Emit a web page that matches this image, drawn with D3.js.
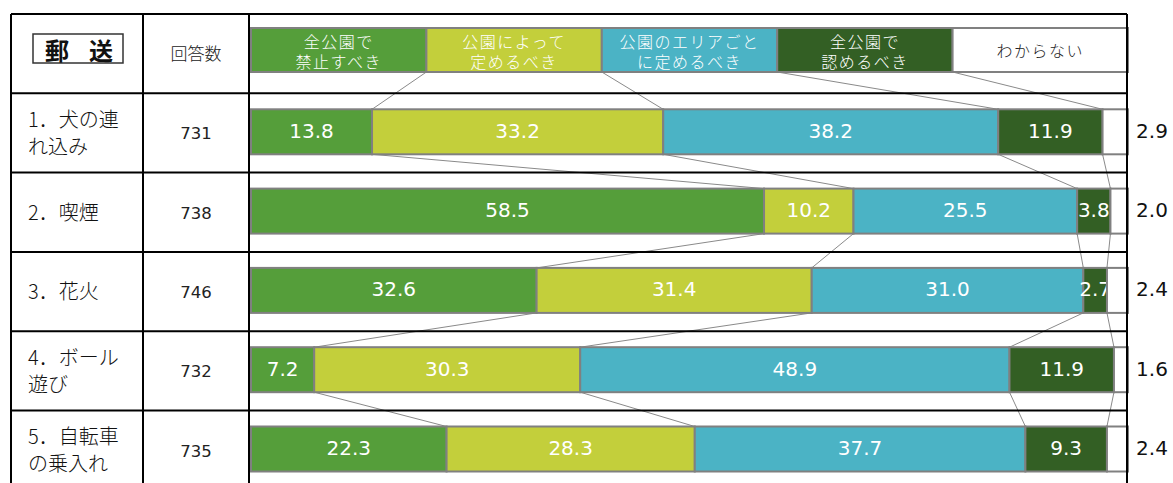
<!DOCTYPE html>
<html>
<head>
<meta charset="utf-8">
<script src="https://cdn.jsdelivr.net/npm/d3@7"></script>
<style>
  body { margin: 0; background: #fff; }
  svg { font-family: "Noto Sans CJK JP", "Noto Sans", sans-serif; }
  .num { font-family: "DejaVu Sans", "Noto Sans", sans-serif; }
</style>
</head>
<body>
<div id="chart"></div>
<script>
// rows of the table
const rowLabels = [["1．犬の連", "れ込み"], ["2．喫煙"], ["3．花火"], ["4．ボール", "遊び"], ["5．自転車", "の乗入れ"]];
const counts = [731, 738, 746, 732, 735];

// answer categories (legend)
const seriesKeys = ["banAll", "byPark", "byArea", "allowAll", "unknown"];
const legendLines = [["全公園で", "禁止すべき"], ["公園によって", "定めるべき"], ["公園のエリアごと", "に定めるべき"], ["全公園で", "認めるべき"], ["わからない"]];

// percentages per category
const banAll   = [13.8, 58.5, 32.6, 7.2, 22.3];
const byPark   = [33.2, 10.2, 31.4, 30.3, 28.3];
const byArea   = [38.2, 25.5, 31.0, 48.9, 37.7];
const allowAll = [11.9, 3.8, 2.7, 11.9, 9.3];
const unknown  = [2.9, 2.0, 2.4, 1.6, 2.4];

const colors = ["#559e3a", "#c3cf3b", "#4bb3c5", "#335f24", "#ffffff"];

const rows = counts.map((c, i) => ({
  id: "r" + i, banAll: banAll[i], byPark: byPark[i], byArea: byArea[i],
  allowAll: allowAll[i], unknown: unknown[i]
}));

const width = 1173, height = 483;
const svg = d3.select("#chart").append("svg")
  .attr("width", width).attr("height", height);

// table geometry
const tableLeft = 11, col1 = 143, col2 = 249, tableRight = 1127;
const band = d3.scaleBand()
  .domain(["header"].concat(rows.map(d => d.id)))
  .range([14, 14 + 6 * 79.3]);

const x = d3.scaleLinear().domain([0, 1]).range([251, 1128]);
const barTop = 16, barH = 45;

const stack = d3.stack().keys(seriesKeys).offset(d3.stackOffsetExpand);
const stacked = stack(rows);

// connector lines between bars
const legendBounds = [0.2, 0.4, 0.6, 0.8];
const rowBounds = rows.map((r, i) => stacked.slice(0, 4).map(s => s[i][1]));
const connectors = [];
legendBounds.forEach((b, k) => connectors.push({
  x1: x(b), y1: band("header") + 14 + 44, x2: x(rowBounds[0][k]), y2: band(rows[0].id) + barTop
}));
for (let i = 0; i < rows.length - 1; i++) {
  rowBounds[i].forEach((b, k) => connectors.push({
    x1: x(b), y1: band(rows[i].id) + barTop + barH,
    x2: x(rowBounds[i + 1][k]), y2: band(rows[i + 1].id) + barTop
  }));
}
svg.append("g").selectAll("line").data(connectors).join("line")
  .attr("x1", d => d.x1).attr("y1", d => d.y1)
  .attr("x2", d => d.x2).attr("y2", d => d.y2)
  .attr("stroke", "#8a8a8a").attr("stroke-width", 1);

// legend boxes
const legend = svg.append("g");
legend.selectAll("rect").data(seriesKeys).join("rect")
  .attr("x", (d, i) => x(i * 0.2))
  .attr("y", band("header") + 14)
  .attr("width", x(0.2) - x(0))
  .attr("height", 44)
  .attr("fill", (d, i) => colors[i])
  .attr("stroke", "#808080").attr("stroke-width", 2);
seriesKeys.forEach((key, i) => {
  const lines = legendLines[i];
  lines.forEach((t, j) => {
    legend.append("text")
      .attr("text-anchor", "middle")
      .attr("dominant-baseline", "central")
      .attr("x", x(i * 0.2 + 0.1))
      .attr("y", lines.length === 1 ? band("header") + 36 : band("header") + 27 + j * 20)
      .attr("fill", i === 4 ? "#222" : "#fff")
      .style("font-size", "16px")
      .style("font-weight", 300)
      .style("letter-spacing", "1.5px")
      .text(t);
  });
});

// stacked bars
const layers = svg.append("g").selectAll("g").data(stacked).join("g")
  .attr("fill", (d, i) => colors[i]);
layers.selectAll("rect").data(d => d).join("rect")
  .attr("x", d => x(d[0]))
  .attr("y", d => band(d.data.id) + barTop)
  .attr("width", d => x(d[1]) - x(d[0]))
  .attr("height", barH)
  .attr("stroke", "#808080").attr("stroke-width", 2);

// value labels
layers.each(function(layer, li) {
  d3.select(this).selectAll("text").data(layer).join("text")
    .attr("class", "num")
    .attr("x", d => li === 4 ? 1152 : (x(d[0]) + x(d[1])) / 2)
    .attr("y", d => band(d.data.id) + barTop + barH / 2 - 1)
    .attr("text-anchor", "middle")
    .attr("dominant-baseline", "central")
    .attr("fill", li === 4 ? "#111" : "#fff")
    .style("font-size", "20px")
    .text(d => d.data[layer.key].toFixed(1));
});

// table row labels and counts
const rowG = svg.append("g").selectAll("g").data(rows).join("g");
rowG.each(function(d, i) {
  const lines = rowLabels[i];
  const cy = band(d.id) + band.bandwidth() / 2;
  lines.forEach((t, j) => {
    d3.select(this).append("text")
      .attr("x", 28)
      .attr("y", cy - (lines.length - 1) * 13.5 + j * 27 - 1)
      .attr("dominant-baseline", "central")
      .attr("fill", "#111")
      .style("font-size", "20px")
      .style("font-weight", 300)
      .text(t);
  });
});
rowG.append("text")
  .attr("class", "num")
  .attr("x", (col1 + col2) / 2)
  .attr("y", d => band(d.id) + band.bandwidth() / 2 + 1)
  .attr("text-anchor", "middle")
  .attr("dominant-baseline", "central")
  .attr("fill", "#222")
  .style("font-size", "16.5px")
  .text((d, i) => counts[i]);

// header cells
svg.append("rect")
  .attr("x", 33).attr("y", 34).attr("width", 90).attr("height", 29)
  .attr("fill", "#fff").attr("stroke", "#333").attr("stroke-width", 1.5);
["郵", "送"].forEach((t, i) => {
  svg.append("text")
    .attr("x", 57 + i * 44).attr("y", 49)
    .attr("text-anchor", "middle").attr("dominant-baseline", "central")
    .style("font-size", "24px").style("font-weight", "bold")
    .attr("fill", "#111")
    .text(t);
});
svg.append("text")
  .attr("x", (col1 + col2) / 2).attr("y", 52)
  .attr("text-anchor", "middle").attr("dominant-baseline", "central")
  .style("font-size", "17px").style("font-weight", 300).attr("fill", "#222")
  .text("回答数");

// table grid
const grid = svg.append("g").attr("stroke", "#000").attr("stroke-width", 2);
band.domain().forEach(k => {
  grid.append("line")
    .attr("x1", tableLeft).attr("x2", tableRight)
    .attr("y1", band(k)).attr("y2", band(k));
});
[tableLeft, col1, col2, tableRight].forEach(cx => {
  grid.append("line")
    .attr("x1", cx).attr("x2", cx)
    .attr("y1", 14).attr("y2", height);
});
</script>
</body>
</html>
